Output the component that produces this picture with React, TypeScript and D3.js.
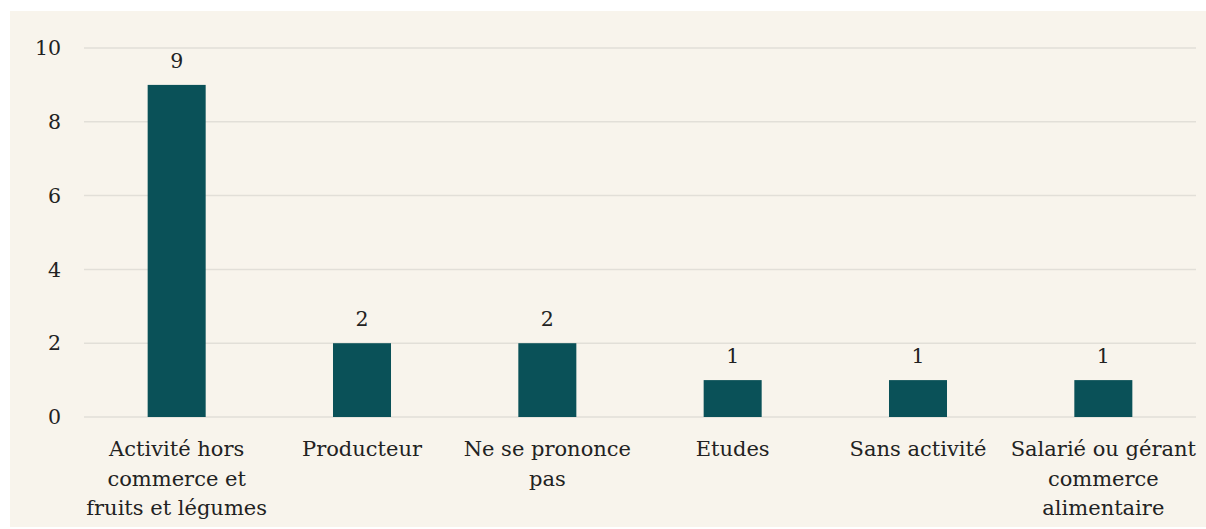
import React from 'react';
import * as d3 from 'd3';

const categories = [
  'Activité hors\ncommerce et\nfruits et légumes',
  'Producteur',
  'Ne se prononce\npas',
  'Etudes',
  'Sans activité',
  'Salarié ou gérant\ncommerce\nalimentaire',
];
const values = [9, 2, 2, 1, 1, 1];
const yTicks = [0, 2, 4, 6, 8, 10];

const W = 1206;
const H = 529;
const margin = { top: 48, right: 10, bottom: 112, left: 84 };
const FONT = '"DejaVu Serif", "Liberation Serif", serif';

export default function App() {
  const innerW = W - margin.left - margin.right;
  const innerH = H - margin.top - margin.bottom;

  const x = d3.scaleBand().domain(categories).range([0, innerW]).paddingInner(0.687).paddingOuter(0.3435);
  const y = d3.scaleLinear().domain([0, 10]).range([innerH, 0]);

  return (
    <svg width={W} height={H} style={{ position: 'absolute', left: 0, top: 0 }} fontFamily={FONT}>
      <rect x={10} y={11} width={W - 10} height={H - 13} fill="#f8f4ec" />
      <g transform={`translate(${margin.left},${margin.top})`}>
        {yTicks.map(t => (
          <g key={t}>
            <line x1={0} x2={innerW} y1={y(t)} y2={y(t)} stroke="#e2dfd8" strokeWidth={1.5} />
            <text x={-23} y={y(t)} dy="0.35em" textAnchor="end" fontSize={20.5} fill="#222">{t}</text>
          </g>
        ))}
        {values.map((v, i) => {
          const c = categories[i];
          const cx = x(c)! + x.bandwidth() / 2;
          return (
            <g key={c}>
              <rect x={x(c)} y={y(v)} width={x.bandwidth()} height={innerH - y(v)} fill="#0a5158" />
              <text x={cx} y={y(v) - 17} textAnchor="middle" fontSize={20.5} fill="#222">{v}</text>
              {c.split('\n').map((line, j) => (
                <text key={j} x={cx} y={innerH + 39 + j * 29.5} textAnchor="middle" fontSize={21} fill="#222">
                  {line}
                </text>
              ))}
            </g>
          );
        })}
      </g>
    </svg>
  );
}
